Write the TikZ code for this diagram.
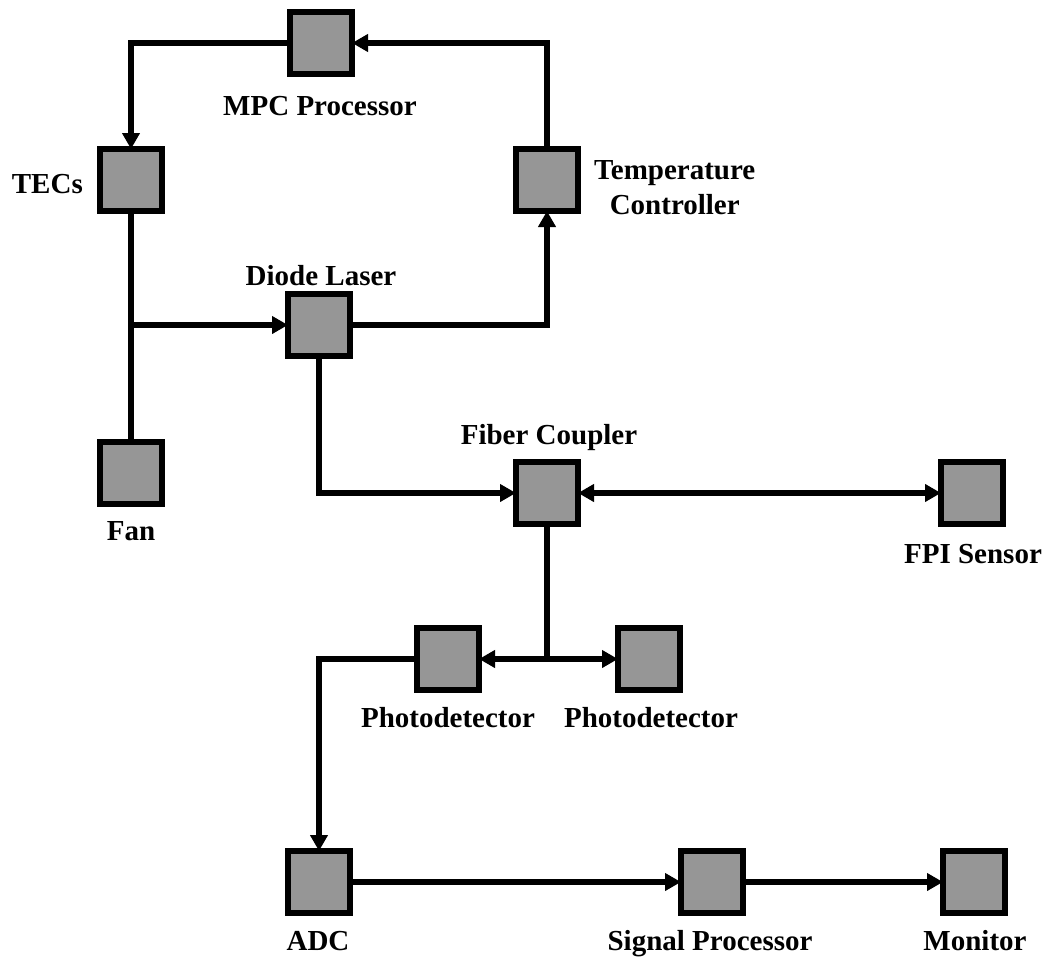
\documentclass[tikz,border=0pt]{standalone}
\usepackage{fontspec}
\setmainfont{Liberation Serif}
\usetikzlibrary{arrows.meta}
\definecolor{boxgray}{RGB}{150,150,150}
\begin{document}
\begin{tikzpicture}[x=1pt,y=-1pt,
  blk/.style={draw=black,fill=boxgray,line width=6pt,minimum size=62pt,inner sep=0pt,outer sep=0pt},
  lbl/.style={font=\fontsize{29}{35}\selectfont\bfseries,inner sep=0pt},
  lbx/.style={lbl,text height=20pt,text depth=6pt},
  conn/.style={line width=5.5pt,-{Triangle[length=16pt,width=17pt]}},
  plain/.style={line width=5.5pt},
  both/.style={line width=5.5pt,{Triangle[length=16pt,width=17pt]}-{Triangle[length=16pt,width=17pt]}}]
\useasboundingbox (0,0) rectangle (1050,958);
% boxes
\node[blk] (mpc) at (321,43) {};
\node[blk] (tec) at (131,180) {};
\node[blk] (tc) at (547,180) {};
\node[blk] (dl) at (319,325) {};
\node[blk] (fan) at (131,473) {};
\node[blk] (fc) at (547,493) {};
\node[blk] (fpi) at (972,493) {};
\node[blk] (pd1) at (448,659) {};
\node[blk] (pd2) at (649,659) {};
\node[blk] (adc) at (319,882) {};
\node[blk] (sp) at (712,882) {};
\node[blk] (mon) at (974,882) {};
% labels
\node[lbx] (lmpc) at (320,108) {MPC Processor};
\node[lbx,anchor=east] (ltec) at (83,186) {TECs};
\node[lbl,anchor=west,align=center] (ltc) at (594,188) {Temperature\\Controller};
\node[lbx] (ldl) at (321,278) {Diode Laser};
\node[lbx] (lfan) at (131,533) {Fan};
\node[lbx] (lfc) at (549,437) {Fiber Coupler};
\node[lbx] (lfpi) at (973,556) {FPI Sensor};
\node[lbx] (lpd1) at (448,720) {Photodetector};
\node[lbx] (lpd2) at (651,720) {Photodetector};
\node[lbx] (ladc) at (318,943) {ADC};
\node[lbx] (lsp) at (710,943) {Signal Processor};
\node[lbx] (lmon) at (975,943) {Monitor};
% junctions
\coordinate (j1) at (tec.south |- dl.west);
\coordinate (j2) at (fc.south |- pd1.east);
% connectors
\draw[conn] (mpc.west) -| (tec.north);
\draw[conn] (tc.north) |- (mpc.east);
\draw[plain] (tec.south) -- (fan.north);
\draw[conn] (j1) -- (dl.west);
\draw[conn] (dl.east) -| (tc.south);
\draw[conn] (dl.south) |- (fc.west);
\draw[both] (fc.east) -- (fpi.west);
\draw[plain] (fc.south) -- (j2);
\draw[conn] (j2) -- (pd1.east);
\draw[conn] (j2) -- (pd2.west);
\draw[conn] (pd1.west) -| (adc.north);
\draw[conn] (adc.east) -- (sp.west);
\draw[conn] (sp.east) -- (mon.west);
\end{tikzpicture}
\end{document}
